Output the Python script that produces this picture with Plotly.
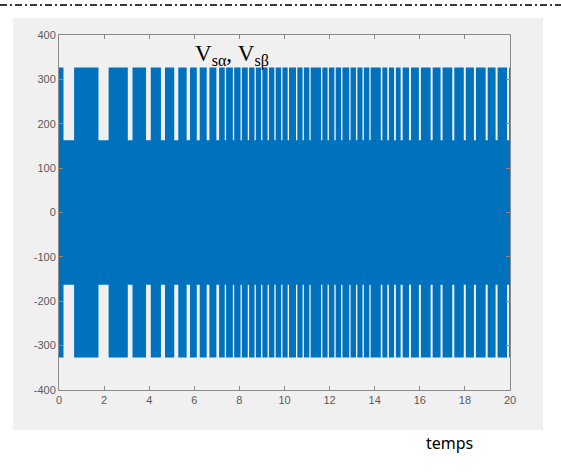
import plotly.graph_objects as go

# Two-level PWM stator voltage envelope (V) versus time
v_high = 327
v_mid = 163
t_end = 20

# Intervals where the outer level is not reached (upper and lower bands identical)
gap_start = [0.20, 1.75, 3.05, 3.86, 4.52, 5.11, 5.66, 6.11, 6.55, 6.98,
             7.35, 7.71, 8.05, 8.37, 8.67, 8.96, 9.25, 9.55, 9.85, 10.14,
             10.51, 10.80, 11.10, 11.62, 11.91, 12.21, 12.51, 12.87, 13.17,
             13.46, 13.76, 14.27, 14.56, 14.86, 15.15, 15.52, 15.96, 16.48,
             16.92, 17.44, 17.95, 18.40, 18.92, 19.36, 19.87]
gap_end = [0.67, 2.20, 3.26, 4.07, 4.70, 5.29, 5.81, 6.24, 6.67, 7.10,
           7.41, 7.77, 8.11, 8.43, 8.73, 9.02, 9.31, 9.61, 9.91, 10.20,
           10.57, 10.86, 11.16, 11.68, 11.97, 12.27, 12.57, 12.93, 13.23,
           13.52, 13.82, 14.34, 14.63, 14.94, 15.24, 15.61, 16.05, 16.57,
           17.01, 17.53, 18.04, 18.49, 19.01, 19.45, 19.96]

x_ticks = list(range(0, 21, 2))
y_ticks = list(range(-400, 401, 100))
y_tick_text = [str(v) for v in y_ticks]

# Build the step envelope from the switching instants
env_t = [0.0]
env_v = [v_high]
for s, e in zip(gap_start, gap_end):
    env_t += [s, s, e, e]
    env_v += [v_high, v_mid, v_mid, v_high]
env_t.append(t_end)
env_v.append(v_high)

# Closed outline: upper envelope forward, mirrored lower envelope back
poly_t = env_t + env_t[::-1]
poly_v = env_v + [-v for v in env_v[::-1]]

blue = "#0072BD"
fig = go.Figure()
fig.add_trace(go.Scatter(x=poly_t, y=poly_v, mode="lines", line=dict(width=0, color=blue),
                         fill="toself", fillcolor=blue, hoverinfo="skip", showlegend=False))

axis_common = dict(
    showgrid=False, zeroline=False, showline=True, linecolor="#8a8a8a", linewidth=1,
    mirror="ticks", ticks="inside", ticklen=4, tickcolor="#8a8a8a",
    tickfont=dict(family="Liberation Sans, Arial", size=11, color="#5a5a5a"),
)

fig.update_xaxes(range=[0, 20], tickvals=x_ticks, **axis_common)
fig.update_yaxes(range=[-400, 400], tickvals=y_ticks, ticktext=y_tick_text, **axis_common)

fig.update_layout(
    width=561, height=473,
    margin=dict(l=59, r=51, t=35, b=83),
    paper_bgcolor="white", plot_bgcolor="white",
    shapes=[
        # figure window background
        dict(type="rect", xref="paper", yref="paper", layer="below",
             x0=-46 / 451, x1=484 / 451, y0=-40 / 355, y1=372 / 355,
             fillcolor="#f0f0f0", line=dict(width=0)),
        # dash-dot separator across the top
        dict(type="line", xref="paper", yref="paper",
             x0=-59 / 451, x1=502 / 451, y0=385 / 355, y1=385 / 355,
             line=dict(color="#3a3a3a", width=2, dash="7px,3px,2px,3px")),
    ],
    annotations=[
        dict(text="V<sub>sα</sub>, V<sub>sβ</sub>", xref="paper", yref="paper",
             x=134 / 451, y=351 / 355, xanchor="left", yanchor="top", showarrow=False,
             font=dict(family="Liberation Serif, Times New Roman", size=23, color="black")),
        dict(text="temps", xref="paper", yref="paper",
             x=390 / 451, y=-53 / 355, xanchor="center", yanchor="middle", showarrow=False,
             font=dict(family="Noto Sans, Open Sans", size=16, color="black")),
    ],
)

fig.write_html("out.html")
